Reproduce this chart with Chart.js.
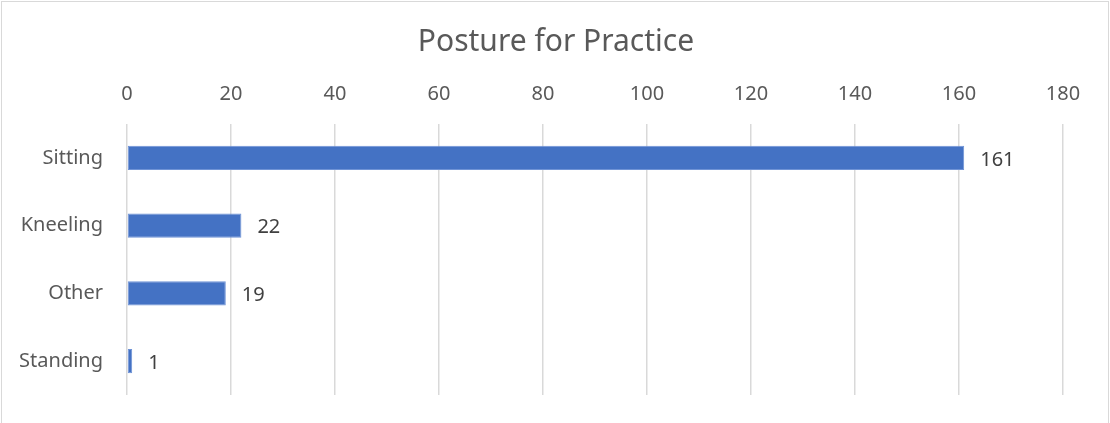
<!DOCTYPE html>
<html>
<head>
<meta charset="utf-8">
<script src="https://cdn.jsdelivr.net/npm/chart.js@4.4.1/dist/chart.umd.min.js"></script>
<style>
  html, body { margin: 0; padding: 0; background: #ffffff; }
  #wrap { width: 1110px; height: 423px; position: relative; }
</style>
</head>
<body>
<div id="wrap"><canvas id="chart" width="1110" height="423"></canvas></div>
<script>
// Survey answers: posture used for practice
const categories = ['Sitting', 'Kneeling', 'Other', 'Standing'];
const counts = [161, 22, 19, 1];
const tickValues = [0, 20, 40, 60, 80, 100, 120, 140, 160, 180];
const chartTitle = 'Posture for Practice';

const FONT = "'Noto Sans', 'Open Sans', sans-serif";
const TEXT_GREY = '#595959';

// White background, thin frame and the centred title
const framePlugin = {
  id: 'frame',
  beforeDraw(chart) {
    const ctx = chart.ctx;
    ctx.save();
    ctx.fillStyle = '#ffffff';
    ctx.fillRect(0, 0, chart.width, chart.height);
    ctx.strokeStyle = '#d9d9d9';
    ctx.lineWidth = 1;
    ctx.strokeRect(1.5, 1.5, chart.width - 3, chart.height + 10);
    ctx.font = '30px ' + FONT;
    ctx.fillStyle = TEXT_GREY;
    ctx.textAlign = 'center';
    ctx.textBaseline = 'middle';
    ctx.fillText(chartTitle, chart.width / 2 + 1, 42);
    ctx.restore();
  }
};

// Value labels to the right of each bar
const valueLabels = {
  id: 'valueLabels',
  afterDatasetsDraw(chart) {
    const ctx = chart.ctx;
    const meta = chart.getDatasetMeta(0);
    ctx.save();
    ctx.font = '20px ' + FONT;
    ctx.fillStyle = '#404040';
    ctx.textAlign = 'left';
    ctx.textBaseline = 'middle';
    meta.data.forEach((bar, i) => {
      ctx.fillText(String(chart.data.datasets[0].data[i]), bar.x + 16, bar.y + 2);
    });
    ctx.restore();
  }
};

new Chart(document.getElementById('chart'), {
  type: 'bar',
  data: {
    labels: categories,
    datasets: [{
      data: counts,
      backgroundColor: '#4472c4',
      borderColor: '#6f93d6',
      borderWidth: 1,
      borderSkipped: false,
      barPercentage: 0.355,
      categoryPercentage: 1.0
    }]
  },
  options: {
    indexAxis: 'y',
    responsive: false,
    animation: false,
    layout: { padding: { left: 0, right: 47, top: 0, bottom: 22 } },
    plugins: {
      legend: { display: false },
      tooltip: { enabled: false },
      title: { display: false }
    },
    scales: {
      x: {
        position: 'top',
        min: 0,
        max: 180,
        afterBuildTicks(scale) {
          scale.ticks = tickValues.map(v => ({ value: v }));
        },
        afterFit(scale) { scale.height = 124; },
        ticks: {
          color: TEXT_GREY,
          font: { family: FONT, size: 20 },
          padding: 18
        },
        grid: { color: '#d9d9d9', lineWidth: 1.5, drawTicks: false },
        border: { display: false }
      },
      y: {
        afterFit(scale) { scale.width = 127; },
        ticks: {
          color: TEXT_GREY,
          font: { family: FONT, size: 20 },
          padding: 16
        },
        grid: { display: false },
        border: { display: false }
      }
    }
  },
  plugins: [framePlugin, valueLabels]
});
</script>
</body>
</html>
